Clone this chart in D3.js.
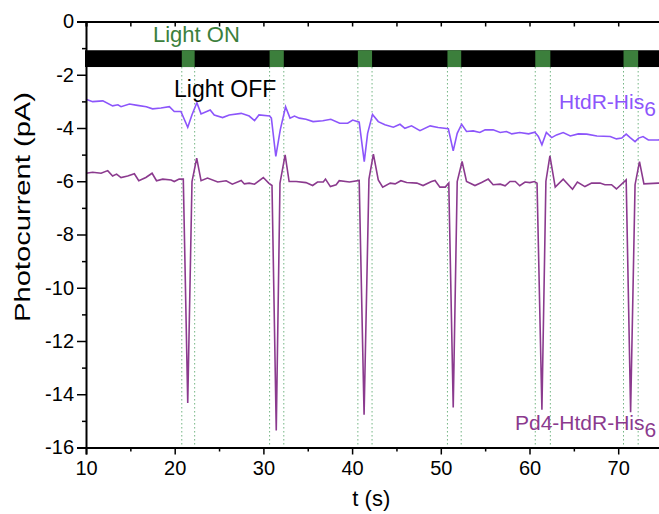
<!DOCTYPE html>
<html>
<head>
<meta charset="utf-8">
<script src="https://cdn.jsdelivr.net/npm/d3@7"></script>
<style>
  body { margin: 0; background: #fff; }
  text { font-family: "Liberation Sans", Arial, sans-serif; }
</style>
</head>
<body>
<div id="chart"></div>
<script>
// time stamps (s) and currents (pA)
const htdrTime = [10, 10.75, 11.9, 13.0, 13.6, 13.95, 14.9, 15.8, 16.8, 17.5, 18.45, 19.4, 19.95, 20.7, 21.47,
  21.95, 22.5, 22.97, 24.0, 24.46, 25.4, 26.15, 27.5, 28.4, 29.0, 29.5, 30.7, 30.9, 31.4, 31.9,
  32.5, 33.0, 33.5, 34.05, 34.8, 35.6, 36.7, 37.6, 38.6, 39.5, 40.07, 40.8, 41.37, 41.75, 42.3,
  42.95, 43.7, 44.65, 45.4, 45.95, 46.7, 47.65, 48.8, 49.7, 50.85, 51.4, 51.85, 52.35, 52.9, 53.65,
  54.4, 55.0, 55.9, 56.7, 57.4, 58.0, 58.9, 59.9, 60.6, 61.0, 61.4, 61.9, 62.5, 63.05, 63.8,
  64.6, 65.5, 66.45, 67.6, 69.1, 69.8, 70.4, 70.9, 71.35, 71.9, 72.3, 72.8, 73.4, 74.5, 75];
const htdrCurrent = [-2.92, -3.01, -2.98, -3.17, -3.13, -3.2, -3.1, -3.15, -3.2, -3.28, -3.25, -3.2, -3.38, -3.38, -3.97,
  -3.5, -3.05, -3.47, -3.32, -3.51, -3.61, -3.51, -3.45, -3.55, -3.72, -3.51, -3.55, -3.63, -5.07, -4.07,
  -3.2, -3.63, -3.55, -3.63, -3.67, -3.76, -3.73, -3.67, -3.82, -3.82, -3.7, -3.78, -5.26, -4.2, -3.49,
  -3.76, -3.88, -3.97, -3.86, -4.01, -3.92, -4.1, -3.92, -3.98, -4.03, -4.86, -4.2, -3.86, -4.13, -4.11,
  -4.17, -4.07, -4.07, -4.17, -4.13, -4.22, -4.17, -4.22, -4.16, -4.32, -4.63, -4.17, -4.36, -4.26, -4.17,
  -4.3, -4.22, -4.23, -4.3, -4.32, -4.41, -4.38, -4.23, -4.36, -4.51, -4.38, -4.32, -4.45, -4.45, -4.43];

const pd4Time = [10, 10.75, 11.7, 12.45, 13.0, 13.45, 13.95, 14.7, 15.45, 15.95, 16.75, 17.45, 17.95, 18.65, 19.6,
  19.95, 20.5, 20.97, 21.47, 21.95, 22.48, 22.97, 23.7, 24.85, 25.8, 26.5, 27.5, 27.85, 28.4, 29.0,
  29.99, 30.6, 30.97, 31.45, 31.87, 32.45, 32.9, 33.7, 34.8, 35.55, 36.1, 36.75, 37.0, 37.55, 38.2,
  38.55, 39.7, 40.8, 41.35, 41.9, 42.4, 42.95, 43.45, 44.3, 44.85, 45.5, 46.15, 47.3, 48.0, 48.95,
  49.35, 49.9, 50.5, 50.9, 51.4, 51.85, 52.4, 52.9, 53.85, 54.6, 55.35, 55.9, 56.7, 57.25, 57.8,
  58.4, 58.9, 59.5, 60.05, 60.55, 60.85, 61.4, 61.85, 62.3, 62.9, 63.8, 64.85, 65.4, 66.25, 67.0,
  67.95, 68.5, 69.25, 69.8, 70.9, 71.4, 71.9, 72.4, 72.9, 74.5, 75];
const pd4Current = [-5.7, -5.66, -5.7, -5.6, -5.8, -5.73, -5.86, -5.8, -5.72, -5.98, -5.86, -5.7, -5.98, -5.92, -5.95,
  -6.01, -5.92, -5.92, -14.33, -6.01, -5.13, -5.98, -5.88, -6.03, -5.98, -6.11, -5.97, -6.1, -6.07, -6.11,
  -5.86, -6.07, -6.16, -15.36, -6.07, -5.01, -6.01, -6.01, -6.05, -6.16, -6.03, -6.03, -5.92, -6.2, -6.13,
  -5.98, -6.03, -5.97, -14.77, -5.92, -4.98, -5.95, -6.22, -6.07, -6.1, -5.98, -6.05, -6.07, -6.16, -6.01,
  -5.97, -6.22, -6.22, -6.07, -14.5, -6.01, -5.26, -6.01, -6.16, -6.05, -5.92, -6.13, -6.11, -6.17, -6.01,
  -6.01, -6.17, -6.03, -6.05, -6.01, -6.07, -14.58, -6.0, -5.05, -6.22, -5.92, -6.3, -6.03, -6.2, -6.07,
  -6.07, -6.13, -6.13, -6.29, -5.95, -14.68, -6.13, -5.26, -6.1, -6.07, -6.07];

// light-on windows (s)
const lightOnStart = [20.8, 30.7, 40.65, 50.75, 60.65, 70.6];
const lightOnEnd = [22.25, 32.3, 42.25, 52.3, 62.35, 72.25];
const lightBar = [-1.08, -1.71]; // top, bottom of the light indicator bar (pA)

const xTicks = [10, 20, 30, 40, 50, 60, 70];
const xMinorTicks = [15, 25, 35, 45, 55, 65, 75];
const yTicks = [0, -2, -4, -6, -8, -10, -12, -14, -16];
const yMinorTicks = [-1, -3, -5, -7, -9, -11, -13, -15];

const W = 659, H = 514;
const margin = { top: 21.5, left: 86 };
const plotH = 447.5 - margin.top;

const svg = d3.select("#chart").append("svg")
  .attr("width", W).attr("height", H);

const x = d3.scaleLinear().domain([10, 75]).range([margin.left, margin.left + 65 * 8.87]);
const y = d3.scaleLinear().domain([-16, 0]).range([margin.top + plotH, margin.top]);

const green = "#3c7f3c";

// light bar: black background with green ON segments
svg.append("rect")
  .attr("x", x(10) - 1).attr("y", y(lightBar[0]))
  .attr("width", x(75) - x(10) + 1).attr("height", y(lightBar[1]) - y(lightBar[0]))
  .attr("fill", "#000");

const windows = lightOnStart.map((s, i) => ({ s, e: lightOnEnd[i] }));
svg.selectAll(".on").data(windows).join("rect")
  .attr("class", "on")
  .attr("x", d => x(d.s)).attr("y", y(lightBar[0]))
  .attr("width", d => x(d.e) - x(d.s)).attr("height", y(lightBar[1]) - y(lightBar[0]))
  .attr("fill", green);

// dotted guide lines
const edges = lightOnStart.concat(lightOnEnd);
svg.selectAll(".guide").data(edges).join("line")
  .attr("class", "guide")
  .attr("x1", d => x(d)).attr("x2", d => x(d))
  .attr("y1", y(lightBar[1])).attr("y2", y(-16))
  .attr("stroke", "#72b482").attr("stroke-width", 1)
  .attr("stroke-dasharray", "1.5,2.5");

// traces
const line = d3.line().x(d => x(d[0])).y(d => y(d[1]));
svg.append("path")
  .datum(htdrTime.map((t, i) => [t, htdrCurrent[i]]))
  .attr("d", line).attr("fill", "none")
  .attr("stroke", "#8c55fb").attr("stroke-width", 1.6);
svg.append("path")
  .datum(pd4Time.map((t, i) => [t, pd4Current[i]]))
  .attr("d", line).attr("fill", "none")
  .attr("stroke", "#8b3a8e").attr("stroke-width", 1.6);

// axes
const fmt = d => d3.format("")(d).replace("−", "-");
svg.append("g").attr("transform", `translate(0,${y(-16)})`)
  .call(d3.axisBottom(x).tickValues(xTicks).tickSize(7).tickPadding(6).tickFormat(fmt));
svg.append("g").attr("transform", `translate(0,${y(-16)})`)
  .call(d3.axisBottom(x).tickValues(xMinorTicks).tickSize(4).tickFormat(""))
  .select(".domain").remove();
svg.append("g").attr("transform", `translate(${x(10)},0)`)
  .call(d3.axisLeft(y).tickValues(yTicks).tickSize(9).tickPadding(3).tickFormat(fmt));
svg.append("g").attr("transform", `translate(${x(10)},0)`)
  .call(d3.axisLeft(y).tickValues(yMinorTicks).tickSize(4).tickFormat(""))
  .select(".domain").remove();
// top frame with inward ticks
svg.append("g").attr("transform", `translate(0,${y(0)})`)
  .call(d3.axisTop(x).tickValues(xTicks.concat(xMinorTicks)).tickSize(-5).tickFormat(""));

svg.selectAll(".domain").attr("stroke", "#000").attr("stroke-width", 2);
svg.selectAll(".tick line").attr("stroke", "#000").attr("stroke-width", 1.5);
svg.selectAll(".tick text").attr("font-size", 20).attr("fill", "#000")
  .style("font-family", "'Liberation Sans', Arial, sans-serif");

// axis titles
svg.append("text")
  .attr("x", (x(10) + x(75)) / 2 - 3).attr("y", 506)
  .attr("text-anchor", "middle").attr("font-size", 22)
  .text("t (s)");
svg.append("text")
  .attr("transform", `translate(30,${(92 + 322) / 2}) rotate(-90)`)
  .attr("text-anchor", "middle").attr("font-size", 22)
  .attr("textLength", 230).attr("lengthAdjust", "spacingAndGlyphs")
  .text("Photocurrent (pA)");

// annotations
svg.append("text").attr("x", 153).attr("y", 42)
  .attr("font-size", 22).attr("fill", green).text("Light ON");
svg.append("text").attr("x", 174).attr("y", 97)
  .attr("font-size", 23).attr("fill", "#000").text("Light OFF");

const lab1 = svg.append("text").attr("x", 559).attr("y", 109)
  .attr("font-size", 21).attr("fill", "#8c55fb");
lab1.append("tspan").text("HtdR-His");
lab1.append("tspan").attr("dy", 7).text("6");

const lab2 = svg.append("text").attr("x", 515).attr("y", 430)
  .attr("font-size", 21).attr("fill", "#8b3a8e");
lab2.append("tspan").text("Pd4-HtdR-His");
lab2.append("tspan").attr("dy", 7).text("6");
</script>
</body>
</html>
